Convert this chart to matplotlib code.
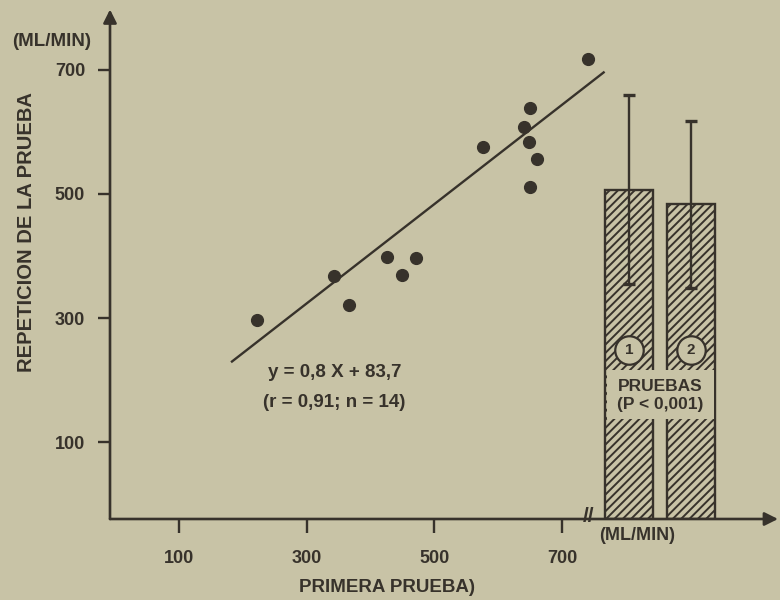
import matplotlib
matplotlib.use('Agg')
import matplotlib.pyplot as plt
from matplotlib.patches import Rectangle

# ---------------- data ----------------
primera = [741, 650, 640, 648, 576, 661, 650, 426, 471, 343, 449, 366, 222]
repeticion = [718, 639, 607, 584, 576, 557, 511, 398, 397, 368, 370, 321, 297]
fit_slope = 0.8
fit_intercept = 83.7
fit_range = [183, 765]

bar_labels = ['1', '2']
bar_means = [507, 483]
bar_sd = [152, 135]

x_ticks = [100, 300, 500, 700]
y_ticks = [100, 300, 500, 700]

# ---------------- style ----------------
BG = '#c8c3a6'
INK = '#37322b'
plt.rcParams['font.family'] = ['Liberation Sans', 'DejaVu Sans']
plt.rcParams['font.weight'] = 'bold'
plt.rcParams['hatch.linewidth'] = 1.4
plt.rcParams['hatch.color'] = INK

W, H = 780, 600
fig = plt.figure(figsize=(W / 100, H / 100), dpi=100, facecolor=BG)
ax = fig.add_axes([110 / W, 81 / H, 668 / W, 507 / H])
ax.set_facecolor(BG)
XMIN, XMAX = -8, 1038
YMIN, YMAX = -23.5, 793
ax.set_xlim(XMIN, XMAX)
ax.set_ylim(YMIN, YMAX)
for s in ax.spines.values():
    s.set_visible(False)

# axis lines with arrows
ax.annotate('', xy=(0, 1.005), xytext=(0, 0), xycoords='axes fraction',
            arrowprops=dict(arrowstyle='-|>', lw=1.9, color=INK, mutation_scale=20,
                            shrinkA=0, shrinkB=0), annotation_clip=False)
ax.annotate('', xy=(1.0, 0), xytext=(0, 0), xycoords='axes fraction',
            arrowprops=dict(arrowstyle='-|>', lw=1.9, color=INK, mutation_scale=20,
                            shrinkA=0, shrinkB=0), annotation_clip=False)

# ticks
ax.set_xticks(x_ticks)
ax.set_yticks(y_ticks)
ax.set_xticklabels([str(t) for t in x_ticks])
ax.set_yticklabels([str(t) for t in y_ticks])
ax.tick_params(axis='x', direction='out', length=10, width=1.7, color=INK,
               labelsize=13, labelcolor=INK, pad=12)
ax.tick_params(axis='y', direction='out', length=9, width=1.7, color=INK,
               labelsize=13, labelcolor=INK, pad=9)

# scatter + regression
ax.scatter(primera, repeticion, s=72, color=INK, zorder=5)
fx = fit_range
fy = [fit_slope * v + fit_intercept for v in fx]
ax.plot(fx, fy, color=INK, lw=1.7, zorder=4)

ax.text(239, 213, 'y = 0,8 X + 83,7', fontsize=13.5, color=INK, va='center', ha='left')
ax.text(231, 164, '(r = 0,91; n = 14)', fontsize=13.5, color=INK, va='center', ha='left')

# break marks
ax.text(741, YMIN + 4, '//', fontsize=15, color=INK, ha='center', va='center',
        clip_on=False)

# bars
centers = [805, 902]
width = 76
heights = [m - YMIN for m in bar_means]
ax.bar(centers, heights, bottom=YMIN, width=width, facecolor=BG, edgecolor=INK,
       hatch='////', linewidth=1.7, zorder=2)
ax.errorbar(centers, bar_means, yerr=bar_sd, fmt='none', ecolor=INK,
            elinewidth=1.7, capsize=4, capthick=2.4, zorder=3)

# blank band with text
left = centers[0] - width / 2 + 2.5
right = centers[1] + width / 2 - 2.5
ax.add_patch(Rectangle((left, 138), right - left, 78, facecolor=BG,
                       edgecolor='none', zorder=4))
ax.scatter(centers, [248, 248], s=420, facecolor=BG, edgecolor=INK,
           linewidth=1.6, zorder=5)
for cx, lab in zip(centers, bar_labels):
    ax.text(cx, 248, lab, fontsize=11, color=INK, ha='center', va='center', zorder=6)
mid = (centers[0] + centers[1]) / 2
ax.text(mid, 190, 'PRUEBAS', fontsize=12.5, color=INK, ha='center', va='center', zorder=6)
ax.text(mid, 161, '(P < 0,001)', fontsize=12.5, color=INK, ha='center', va='center', zorder=6)

# outer labels
fig.text(52 / W, 1 - 42 / H, '(ML/MIN)', fontsize=13.5, color=INK, ha='center', va='center')
fig.text(27 / W, 1 - 232 / H, 'REPETICION DE LA PRUEBA', fontsize=14.5, color=INK,
         ha='center', va='center', rotation=90)
fig.text(387 / W, 1 - 587 / H, 'PRIMERA PRUEBA)', fontsize=13.5, color=INK,
         ha='center', va='center')
fig.text(637 / W, 1 - 535 / H, '(ML/MIN)', fontsize=13, color=INK, ha='center', va='center')

fig.savefig('out.png', dpi=100, facecolor=BG)
